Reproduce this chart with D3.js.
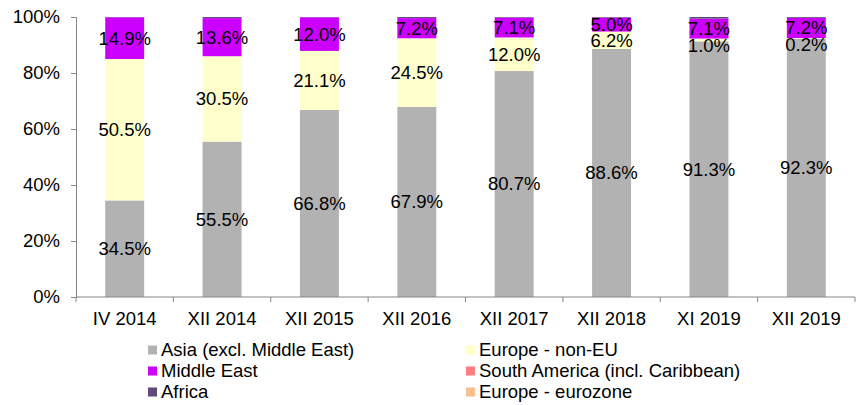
<!DOCTYPE html>
<html>
<head>
<meta charset="utf-8">
<script src="https://cdn.jsdelivr.net/npm/d3@7"></script>
<style>
  body { margin: 0; background: #fff; }
  svg text { font-family: "Liberation Sans", Arial, sans-serif; font-size: 18.5px; fill: #000; }
</style>
</head>
<body>
<script>
// chart size
const width = 865, height = 405;
const margin = { top: 17, right: 10, bottom: 108, left: 76 };

// categories and series values (percent of total)
const periods = ["IV 2014", "XII 2014", "XII 2015", "XII 2016", "XII 2017", "XII 2018", "XI 2019", "XII 2019"];
const asia = [34.5, 55.5, 66.8, 67.9, 80.7, 88.6, 91.3, 92.3];
const europeNonEU = [50.5, 30.5, 21.1, 24.5, 12.0, 6.2, 1.0, 0.2];
const middleEast = [14.9, 13.6, 12.0, 7.2, 7.1, 5.0, 7.1, 7.2];
const southAmerica = [0, 0, 0, 0, 0, 0, 0, 0];
const africa = [0.1, 0.4, 0.1, 0.4, 0.2, 0.2, 0.6, 0.3];
const eurozone = [0, 0, 0, 0, 0, 0, 0, 0];
const yTicks = [0, 20, 40, 60, 80, 100];

// series in stacking order (bottom -> top); showLabel marks the labelled ones
const series = [
  { name: "Asia (excl. Middle East)", values: asia, color: "#b2b2b2", showLabel: true },
  { name: "Europe - non-EU", values: europeNonEU, color: "#ffffcc", showLabel: true },
  { name: "Middle East", values: middleEast, color: "#cc00ff", showLabel: true },
  { name: "South America (incl. Caribbean)", values: southAmerica, color: "#ff7c80", showLabel: false },
  { name: "Africa", values: africa, color: "#604a7b", showLabel: false },
  { name: "Europe - eurozone", values: eurozone, color: "#fac090", showLabel: false }
];

const svg = d3.select("body").append("svg")
  .attr("width", width)
  .attr("height", height);

// build rows for d3.stack
const rows = periods.map((p, i) => {
  const r = { period: p };
  series.forEach(s => r[s.name] = s.values[i]);
  return r;
});
const stacked = d3.stack().keys(series.map(s => s.name))(rows);

const x = d3.scaleBand()
  .domain(periods)
  .range([margin.left, width - margin.right])
  .paddingInner(0.6)
  .paddingOuter(0.3);

const y = d3.scaleLinear()
  .domain([0, 100])
  .range([height - margin.bottom, margin.top]);

// bars
const layers = svg.append("g").selectAll("g")
  .data(stacked)
  .enter().append("g")
  .attr("fill", (d, i) => series[i].color);

layers.selectAll("rect")
  .data(d => d)
  .enter().append("rect")
  .attr("x", d => x(d.data.period))
  .attr("y", d => y(Math.min(d[1], 100)))
  .attr("width", x.bandwidth())
  .attr("height", d => Math.max(0, y(d[0]) - y(Math.min(d[1], 100))));

// y axis
const yAxis = svg.append("g")
  .attr("transform", `translate(${margin.left},0)`)
  .call(d3.axisLeft(y).tickValues(yTicks).tickSize(5).tickPadding(11).tickFormat(d => d + "%"));

yAxis.attr("font-size", null).attr("font-family", null);
yAxis.select(".domain").attr("stroke", "#868686");
yAxis.selectAll(".tick line").attr("stroke", "#868686");
yAxis.selectAll(".tick text").attr("fill", "#000");

// x axis: ticks at band boundaries
const xAxis = svg.append("g")
  .attr("transform", `translate(0,${y(0)})`);
const bounds = d3.range(periods.length + 1).map(i => margin.left + i * (width - margin.right - margin.left) / periods.length);
xAxis.append("line")
  .attr("x1", margin.left).attr("x2", width - margin.right)
  .attr("stroke", "#868686");
xAxis.selectAll(".tk")
  .data(bounds)
  .enter().append("line")
  .attr("x1", d => d).attr("x2", d => d)
  .attr("y1", 0).attr("y2", 5)
  .attr("stroke", "#868686");
xAxis.selectAll("text")
  .data(periods)
  .enter().append("text")
  .attr("x", d => x(d) + x.bandwidth() / 2)
  .attr("y", 28)
  .attr("text-anchor", "middle")
  .text(d => d);

// value labels centred in each segment; very thin segments get their label just below
stacked.forEach((layer, i) => {
  if (!series[i].showLabel) return;
  svg.append("g").selectAll("text")
    .data(layer)
    .enter().append("text")
    .attr("x", d => x(d.data.period) + x.bandwidth() / 2)
    .attr("y", d => {
      const h = y(d[0]) - y(d[1]);
      return h < 6 ? y(d[1]) + 7 : (y(d[0]) + y(d[1])) / 2;
    })
    .attr("dy", "0.35em")
    .attr("text-anchor", "middle")
    .text(d => (d[1] - d[0]).toFixed(1) + "%");
});

// legend, two columns filled row by row
const legendCols = [148, 466];
const legendRows = [350, 371, 392];
const legend = svg.append("g").selectAll("g")
  .data(series)
  .enter().append("g")
  .attr("transform", (d, i) => `translate(${legendCols[i % 2]},${legendRows[Math.floor(i / 2)]})`);

legend.append("rect")
  .attr("x", 0).attr("y", -4.5)
  .attr("width", 9).attr("height", 9)
  .attr("fill", d => d.color);

legend.append("text")
  .attr("x", 13)
  .attr("dy", "0.35em")
  .text(d => d.name);
</script>
</body>
</html>
